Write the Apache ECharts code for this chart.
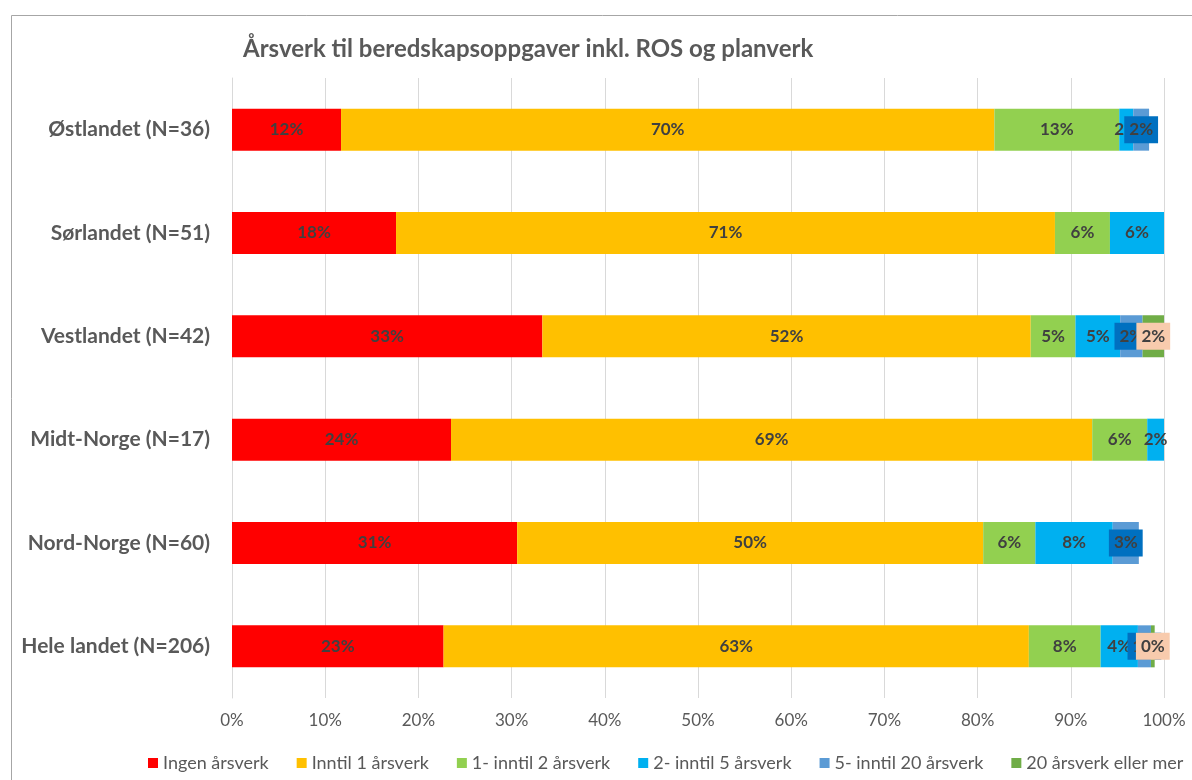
<!DOCTYPE html>
<html>
<head>
<meta charset="utf-8">
<script src="https://cdn.jsdelivr.net/npm/echarts@6/dist/echarts.min.js"></script>
<style>
  html, body { margin: 0; padding: 0; background: #fff; }
  #chart { width: 1192px; height: 780px; }
</style>
</head>
<body>
<div id="chart"></div>
<script>
// region labels, top to bottom
const regions = ['Østlandet (N=36)', 'Sørlandet (N=51)', 'Vestlandet (N=42)', 'Midt-Norge (N=17)', 'Nord-Norge (N=60)', 'Hele landet (N=206)'];
const xTicks = [0, 10, 20, 30, 40, 50, 60, 70, 80, 90, 100];

// shares in percent (null = no segment)
const ingen    = [11.7, 17.6, 33.3, 23.5, 30.6, 22.7];
const inntil1  = [70.1, 70.7, 52.4, 68.8, 50.0, 62.8];
const en2      = [13.4, 5.9, 4.8, 5.9, 5.6, 7.7];
const to5      = [1.5, 5.8, 4.8, 1.8, 8.3, 4.0];
const fem20    = [1.7, null, 2.4, null, 2.8, 1.4];
const tjue     = [null, null, 2.4, null, null, 0.4];

const names = ['Ingen årsverk', 'Inntil 1 årsverk', '1- inntil 2 årsverk', '2- inntil 5 årsverk', '5- inntil 20 årsverk', '20 årsverk eller mer'];
const colors = ['#FF0000', '#FFC000', '#92D050', '#00B0F0', '#5B9BD5', '#70AD47'];
const labelBoxes = [null, null, null, null, '#0070C0', '#F8CBAD'];
const values = [ingen, inntil1, en2, to5, fem20, tjue];

const font = 'Lato, "Open Sans", sans-serif';

const chart = echarts.init(document.getElementById('chart'));

const series = values.map((data, i) => {
  const label = {
    show: true,
    position: 'inside',
    formatter: p => Math.round(p.value) + '%',
    color: '#404040',
    fontWeight: 'bold',
    fontSize: 17,
    fontFamily: font
  };
  if (labelBoxes[i]) {
    label.backgroundColor = labelBoxes[i];
    label.padding = [5, 5];
  }
  return {
    name: names[i],
    type: 'bar',
    stack: 'total',
    barWidth: 42,
    data: data,
    itemStyle: { color: colors[i] },
    label: label,
    z: 2 + i
  };
});

chart.setOption({
  animation: false,
  title: {
    text: 'Årsverk til beredskapsoppgaver inkl. ROS og planverk',
    left: 238,
    top: 32,
    textStyle: { fontFamily: font, fontSize: 24, fontWeight: 'bold', color: '#595959' }
  },
  graphic: [{
    type: 'rect',
    shape: { x: 11.5, y: 15.5, width: 1200, height: 800 },
    style: { fill: 'none', stroke: '#A6A6A6', lineWidth: 1 },
    silent: true
  }],
  legend: {
    top: 749,
    left: 143,
    width: 1150,
    itemWidth: 10,
    itemHeight: 10,
    itemGap: 28,
    icon: 'rect',
    textStyle: { fontFamily: font, fontSize: 18, color: '#595959' },
    data: names
  },
  grid: { left: 232, right: 28, top: 78, bottom: 82, containLabel: false },
  xAxis: {
    type: 'value',
    min: xTicks[0],
    max: xTicks[xTicks.length - 1],
    interval: 10,
    axisLabel: { formatter: '{value}%', color: '#595959', fontSize: 17, fontFamily: font, margin: 14 },
    axisLine: { show: false },
    axisTick: { show: false },
    splitLine: { lineStyle: { color: '#D9D9D9', width: 1 } }
  },
  yAxis: {
    type: 'category',
    data: regions,
    inverse: true,
    axisLine: { show: true, lineStyle: { color: '#D9D9D9' } },
    axisTick: { show: false },
    axisLabel: { color: '#595959', fontSize: 21, fontWeight: 'bold', fontFamily: font, margin: 22 }
  },
  series: series
});
</script>
</body>
</html>
